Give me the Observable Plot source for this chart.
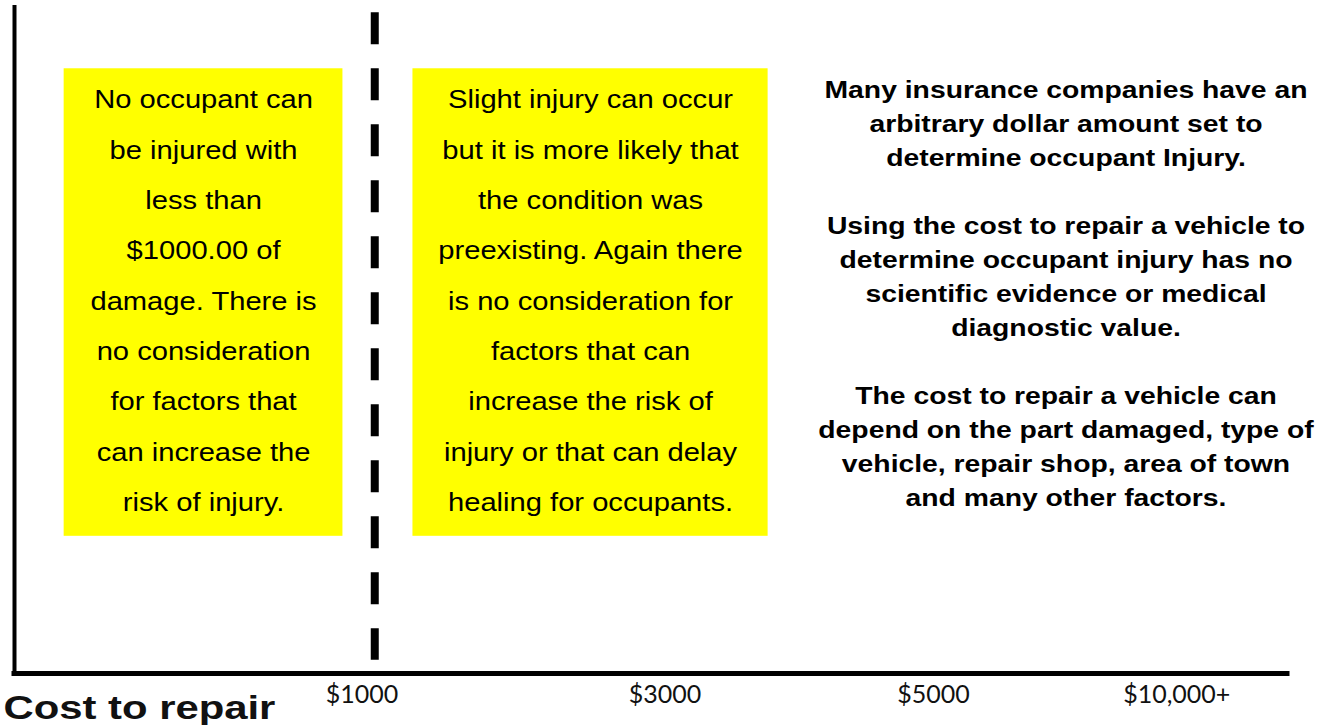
<!DOCTYPE html>
<html>
<head>
<meta charset="utf-8">
<script src="https://cdn.jsdelivr.net/npm/d3@7"></script>
<script src="https://cdn.jsdelivr.net/npm/@observablehq/plot@0.6"></script>
<style>
  html, body { margin: 0; padding: 0; background: #fff; }
  #chart svg { display: block; }
</style>
</head>
<body>
<div id="chart"></div>
<script>
// Cost axis in arbitrary axis units (0 = origin, 100 = end of axis)
const tickLabels = ["$1000", "$3000", "$5000", "$10,000+"];
const tickPositions = [27.3, 51.1, 72.2, 91.3];
const thresholdPosition = 28.3;      // dashed line at $1000
const thresholdTop = 99.2;
const thresholdBottom = 2;

const boxStart = [3.9, 31.3];
const boxEnd = [25.8, 59.2];
const boxTop = [90.8, 90.8];
const boxBottom = [20.6, 20.6];
const boxTexts = [
  "No occupant can\nbe injured with\nless than\n$1000.00 of\ndamage. There is\nno consideration\nfor factors that\ncan increase the\nrisk of injury.",
  "Slight injury can occur\nbut it is more likely that\nthe condition was\npreexisting. Again there\nis no consideration for\nfactors that can\nincrease the risk of\ninjury or that can delay\nhealing for occupants."
];

const noteText = "Many insurance companies have an\narbitrary dollar amount set to\ndetermine occupant Injury.\n\nUsing the cost to repair a vehicle to\ndetermine occupant injury has no\nscientific evidence or medical\ndiagnostic value.\n\nThe cost to repair a vehicle can\ndepend on the part damaged, type of\nvehicle, repair shop, area of town\nand many other factors.";
const notePosition = [82.6, 57.4];
const axisTitle = "Cost to repair";

const boxes = boxTexts.map((t, i) => ({
  text: t, x1: boxStart[i], x2: boxEnd[i], y1: boxBottom[i], y2: boxTop[i],
  xm: (boxStart[i] + boxEnd[i]) / 2, ym: (boxBottom[i] + boxTop[i]) / 2
}));

const sans = "'Liberation Sans', Arial, sans-serif";

const chart = Plot.plot({
  width: 1323,
  height: 725,
  marginLeft: 14,
  marginRight: 36,
  marginTop: 7,
  marginBottom: 52,
  x: {domain: [0, 100], axis: null},
  y: {domain: [0, 100], axis: null},
  style: {fontFamily: sans, background: "#fff"},
  marks: [
    Plot.rect(boxes, {x1: "x1", x2: "x2", y1: "y1", y2: "y2", fill: "#ffff00"}),
    Plot.text(boxes, {x: "xm", y: "ym", text: "text", fontSize: 26.5, lineHeight: 1.9,
      dy: -9, fill: "#000", fontFamily: sans, textAnchor: "middle"}),
    Plot.text([noteText], {x: notePosition[0], y: notePosition[1], text: d => d,
      fontSize: 24, fontWeight: "bold", lineHeight: 1.417, fill: "#000",
      fontFamily: sans, textAnchor: "middle"}),
    Plot.ruleX([thresholdPosition], {y1: thresholdTop, y2: thresholdBottom,
      stroke: "#000", strokeWidth: 8, strokeDasharray: "32,24"}),
    Plot.ruleX([0], {y1: 0, y2: 100, stroke: "#000", strokeWidth: 4, strokeLinecap: "square"}),
    Plot.ruleY([0], {x1: 0, x2: 100, stroke: "#000", strokeWidth: 5, strokeLinecap: "square"}),
    Plot.axisX({
      ticks: tickPositions,
      tickFormat: (d, i) => tickLabels[i],
      tickSize: 0,
      tickPadding: 12,
      fontSize: 25,
      fontFamily: "Lato, 'Open Sans', sans-serif",
      fill: "#111",
      label: null
    }),
    Plot.text([axisTitle], {frameAnchor: "bottom-left", text: d => d, dx: -11, dy: 45,
      textAnchor: "start", lineAnchor: "bottom", fontSize: 34, fontWeight: "bold",
      fill: "#111", fontFamily: sans})
  ]
});

// The reference lettering is horizontally stretched; widen glyphs per text size.
const stretch = {"26.5": 1.1, "24": 1.18, "34": 1.23};
d3.select(chart).selectAll("text").each(function() {
  let el = this, size = null;
  while (el && el !== chart && size == null) {
    size = el.getAttribute && el.getAttribute("font-size");
    el = el.parentNode;
  }
  const s = size != null ? stretch[String(parseFloat(size))] : null;
  if (!s) return;
  const t = this.getAttribute("transform");
  if (t) {
    this.setAttribute("transform", t + ` scale(${s},1)`);
  } else {
    const x = +this.getAttribute("x") || 0, y = +this.getAttribute("y") || 0;
    this.removeAttribute("x"); this.removeAttribute("y");
    d3.select(this).selectAll("tspan").attr("x", 0);
    this.setAttribute("transform", `translate(${x},${y}) scale(${s},1)`);
  }
});

document.getElementById("chart").appendChild(chart);
</script>
</body>
</html>
